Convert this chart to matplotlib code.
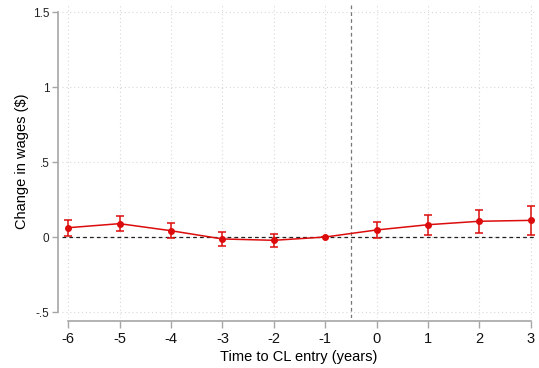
import numpy as np
import matplotlib.pyplot as plt

plt.rcParams['font.family'] = ['Liberation Sans', 'DejaVu Sans']
plt.rcParams['axes.unicode_minus'] = False

# event time and estimates
years = [-6, -5, -4, -3, -2, -1, 0, 1, 2, 3]
coef = [0.062, 0.089, 0.042, -0.013, -0.022, 0.0, 0.047, 0.082, 0.105, 0.111]
ci_low = [0.007, 0.038, -0.009, -0.060, -0.069, 0.0, -0.004, 0.016, 0.029, 0.016]
ci_high = [0.115, 0.142, 0.093, 0.035, 0.022, 0.0, 0.102, 0.145, 0.182, 0.209]
yticks = [-0.5, 0, 0.5, 1, 1.5]
ytick_labels = ['-.5', '0', '.5', '1', '1.5']

red = '#dc0c0c'
gray = '#a6a6a6'

fig = plt.figure(figsize=(5.39, 3.68), dpi=100)
ax = fig.add_axes([62/539, 1-318/368, (535-62)/539, (318-5)/368])

ax.set_xlim(-6.12, 3.08)
ax.set_ylim(-0.54, 1.547)

# grid
ax.set_xticks(years)
ax.set_xticklabels([str(y) for y in years])
ax.set_yticks(yticks)
ax.set_yticklabels(ytick_labels)
ax.grid(True, linestyle=(0, (1, 2.5)), color='#d8d8d8', linewidth=0.8)
ax.set_axisbelow(True)

# reference lines
ax.axhline(0, color='#222222', linestyle=(0, (3, 2.5)), linewidth=0.9, zorder=1)
ax.axvline(-0.5, color='#777777', linestyle=(0, (3, 2.5)), linewidth=0.9, zorder=1)

c = np.array(coef)
yerr = np.array([c - np.array(ci_low), np.array(ci_high) - c])
ax.errorbar(years, coef, yerr=yerr, color=red, ecolor=red, linewidth=1.1,
            elinewidth=1.1, capsize=3, capthick=1.1, marker='o', markersize=4,
            zorder=3)

for s in ['top', 'right']:
    ax.spines[s].set_visible(False)
ax.spines['left'].set_position(('outward', 3))
ax.spines['left'].set_bounds(-0.5, 1.5)
ax.spines['bottom'].set_position(('outward', 2))
ax.spines['bottom'].set_bounds(-6, 3)
for s in ['left', 'bottom']:
    ax.spines[s].set_color(gray)
    ax.spines[s].set_linewidth(1.2)

ax.tick_params(axis='y', colors=gray, length=4, width=1, labelsize=8.5, labelcolor='#222222', pad=2)
ax.tick_params(axis='x', colors=gray, length=5, width=1, labelsize=10.5, labelcolor='#111111', pad=3)

ax.set_xlabel('Time to CL entry (years)', fontsize=10.5, labelpad=3)
ax.set_ylabel('Change in wages ($)', fontsize=10.5, labelpad=3)

fig.savefig('out.png', dpi=100)
